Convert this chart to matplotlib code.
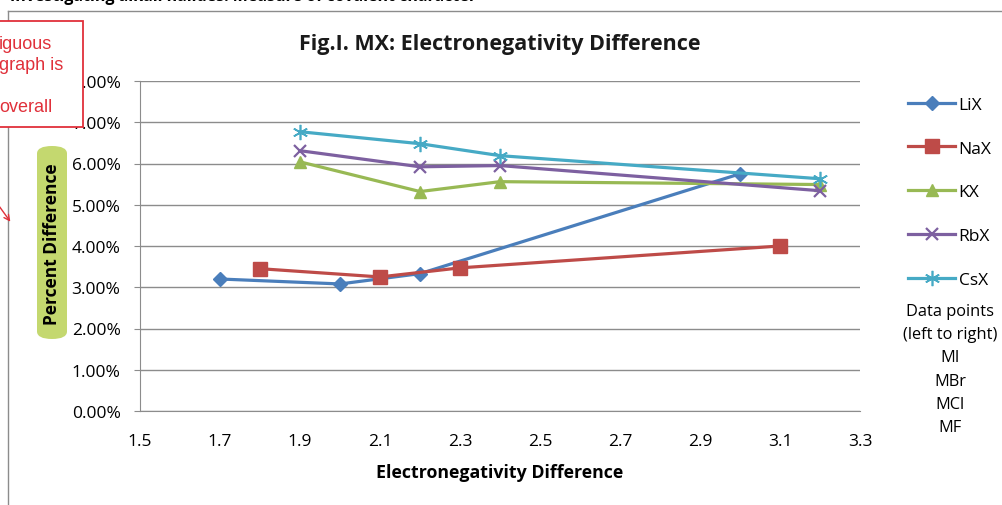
import matplotlib
matplotlib.use("Agg")
from matplotlib import pyplot as plt
from matplotlib.patches import FancyBboxPatch, Rectangle
from matplotlib.lines import Line2D
from matplotlib.ticker import PercentFormatter

plt.rcParams['font.family'] = ['Open Sans', 'DejaVu Sans']

# electronegativity difference (x) and percent difference (y), points MI, MBr, MCl, MF
li_x = [1.7, 2.0, 2.2, 3.0]
li_y = [3.20, 3.08, 3.33, 5.75]
na_x = [1.8, 2.1, 2.3, 3.1]
na_y = [3.45, 3.25, 3.47, 4.00]
k_x = [1.9, 2.2, 2.4, 3.2]
k_y = [6.04, 5.32, 5.56, 5.49]
rb_x = [1.9, 2.2, 2.4, 3.2]
rb_y = [6.31, 5.92, 5.95, 5.34]
cs_x = [1.9, 2.2, 2.4, 3.2]
cs_y = [6.77, 6.48, 6.19, 5.63]

series_names = ["LiX", "NaX", "KX", "RbX", "CsX"]
x_ticks = [1.5, 1.7, 1.9, 2.1, 2.3, 2.5, 2.7, 2.9, 3.1, 3.3]
y_ticks = [0, 1, 2, 3, 4, 5, 6, 7, 8]
point_names = ["MI", "MBr", "MCl", "MF"]

colors = ["#4a7ebb", "#be4b48", "#98b954", "#7d60a0", "#46aac5"]
asterisk = (6, 2, 0)
styles = [
    dict(marker="D", ms=7),
    dict(marker="s", ms=10),
    dict(marker="^", ms=9),
    dict(marker="x", ms=9, mew=1.6),
    dict(marker=asterisk, ms=11, mew=1.2),
]

W, H = 1002, 506
fig = plt.figure(figsize=(W / 100, H / 100), dpi=100)


def fx(px):
    return px / W


def fy(py):
    return 1 - py / H


# outer chart frame
fig.add_artist(Line2D([fx(8), fx(8)], [fy(12), 0], color="#8c8c8c", lw=1))
fig.add_artist(Line2D([fx(8), 1], [fy(12), fy(12)], color="#8c8c8c", lw=1))
fig.text(fx(10), fy(1), "Investigating alkali halides: Measure of covalent character",
         fontsize=11.5, fontweight="bold", va="baseline", ha="left")

ax = fig.add_axes([fx(140), fy(412), fx(860) - fx(140), fy(82) - fy(412)])
all_x = [li_x, na_x, k_x, rb_x, cs_x]
all_y = [li_y, na_y, k_y, rb_y, cs_y]
for xs, ys, name, c, st in zip(all_x, all_y, series_names, colors, styles):
    ax.plot(xs, ys, color=c, lw=2.3, label=name, mec=c, mfc=c, **st, zorder=3)

ax.set_xlim(1.5, 3.3)
ax.set_ylim(0, 8)
ax.set_xticks(x_ticks)
ax.set_xticklabels([f"{t:.1f}" for t in x_ticks])
ax.set_yticks(y_ticks)
ax.yaxis.set_major_formatter(PercentFormatter(decimals=2))
ax.grid(axis="y", color="#8c8c8c", lw=1)
ax.set_axisbelow(True)
for s in ["top", "right"]:
    ax.spines[s].set_visible(False)
for s in ["left", "bottom"]:
    ax.spines[s].set_color("#8c8c8c")
ax.tick_params(axis="y", length=4, color="#8c8c8c", labelsize=12.5, pad=10)
ax.tick_params(axis="x", length=0, labelsize=12.5, pad=16)

ax.set_title("Fig.I. MX: Electronegativity Difference", fontsize=15.5,
             fontweight="bold", pad=23, color="#1a1a1a")
ax.set_xlabel("Electronegativity Difference", fontsize=12.8, fontweight="bold", labelpad=10)

# y label on a rounded green badge
fig.add_artist(FancyBboxPatch((fx(37), fy(340)), fx(30), fy(147) - fy(340),
                              boxstyle="round,pad=0,rounding_size=0.015",
                              transform=fig.transFigure, fc="#c4d86f", ec="none"))
fig.text(fx(52), fy(244), "Percent Difference", rotation=90, fontsize=12.5,
         fontweight="bold", ha="center", va="center")

leg = ax.legend(loc="upper left", bbox_to_anchor=(1.05, 0.99), frameon=False,
                fontsize=12.5, handlelength=2.7, labelspacing=1.6, borderaxespad=0.3,
                handletextpad=0.2)

fig.text(fx(950), fy(370), "Data points\n(left to right)\n" + "\n".join(point_names),
         fontsize=11.8, ha="center", va="center", linespacing=1.6)

# margin note box and arrow
fig.add_artist(Rectangle((fx(-2), fy(128)), fx(85), fy(22) - fy(128),
                         transform=fig.transFigure, fc="white", ec="#e0303a", lw=1.3, zorder=5))
fig.text(fx(-1), fy(76), "iguous\ngraph is\n\noverall", color="#e0303a", fontsize=13,
         family="Liberation Sans", ha="left", va="center", linespacing=1.32, zorder=6)
fig.add_artist(plt.Annotation("", xy=(fx(12), fy(225)), xytext=(fx(-6), fy(200)),
                              xycoords="figure fraction", textcoords="figure fraction",
                              arrowprops=dict(arrowstyle="->", color="#e0303a", lw=1)))

fig.savefig("out.png", dpi=100)
